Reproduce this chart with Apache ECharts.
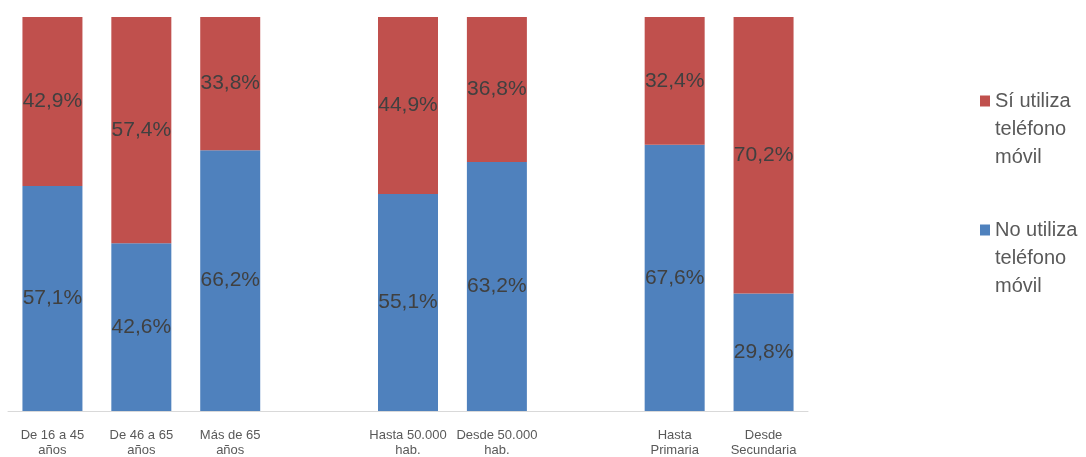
<!DOCTYPE html>
<html><head><meta charset="utf-8">
<script src="https://cdn.jsdelivr.net/npm/echarts@6/dist/echarts.min.js"></script>
<style>html,body{margin:0;padding:0;background:#fff}#c{width:1086px;height:457px}</style>
</head><body><div id="c"></div>
<script>
const categories = ['De 16 a 45\naños','De 46 a 65\naños','Más de 65\naños','','Hasta 50.000\nhab.','Desde 50.000\nhab.','','Hasta\nPrimaria','Desde\nSecundaria'];
const noUtiliza = [57.1, 42.6, 66.2, null, 55.1, 63.2, null, 67.6, 29.8];
const siUtiliza = [42.9, 57.4, 33.8, null, 44.9, 36.8, null, 32.4, 70.2];
const seriesNames = ['Sí utiliza teléfono móvil', 'No utiliza teléfono móvil'];
const legendLabels = ['Sí utiliza\nteléfono\nmóvil', 'No utiliza\nteléfono\nmóvil'];

const font = '"Liberation Sans", Arial, sans-serif';
const fmt = p => p.value == null ? '' : p.value.toFixed(1).replace('.', ',') + '%';
const chart = echarts.init(document.getElementById('c'), null, {renderer: 'canvas'});
const legendText = {color: '#595959', fontFamily: font, fontSize: 20, lineHeight: 28};
chart.setOption({
  animation: false,
  grid: {left: 8, right: 278, top: 17, bottom: 46, containLabel: false, outerBoundsMode: 'none'},
  legend: [
    {data: [seriesNames[0]], left: 980, top: 31, padding: 0, icon: 'rect', itemWidth: 10, itemHeight: 11, itemGap: 6,
     formatter: () => '\n\n' + legendLabels[0], textStyle: legendText, selectedMode: false},
    {data: [seriesNames[1]], left: 980, top: 160, padding: 0, icon: 'rect', itemWidth: 10, itemHeight: 11, itemGap: 6,
     formatter: () => '\n\n' + legendLabels[1], textStyle: legendText, selectedMode: false}
  ],
  xAxis: {
    type: 'category', data: categories,
    axisLine: {lineStyle: {color: '#D9D9D9', width: 1}},
    axisTick: {show: false},
    axisLabel: {color: '#595959', fontFamily: font, fontSize: 13, lineHeight: 15, margin: 17, interval: 0}
  },
  yAxis: {type: 'value', min: 0, max: 100, show: false, splitLine: {show: false}},
  series: [
    {name: seriesNames[1], type: 'bar', stack: 'a', data: noUtiliza, barWidth: 60,
     itemStyle: {color: '#4F81BD'},
     label: {show: true, position: 'inside', formatter: fmt, color: '#404040', fontFamily: font, fontSize: 21}},
    {name: seriesNames[0], type: 'bar', stack: 'a', data: siUtiliza, barWidth: 60,
     itemStyle: {color: '#C0504D'},
     label: {show: true, position: 'inside', formatter: fmt, color: '#404040', fontFamily: font, fontSize: 21}}
  ]
});
</script></body></html>
